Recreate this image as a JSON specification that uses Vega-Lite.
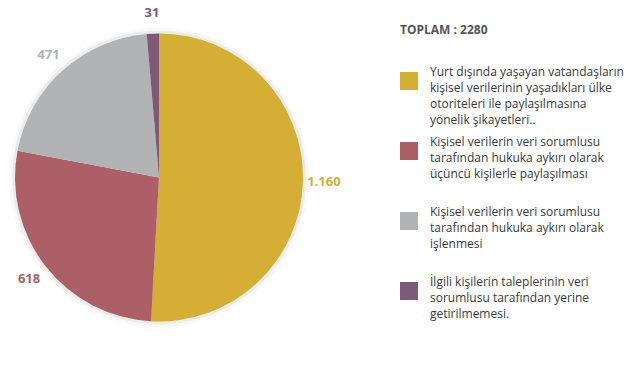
{
  "$schema": "https://vega.github.io/schema/vega-lite/v6.json",
  "width": 318,
  "height": 355,
  "padding": 0,
  "autosize": {"type": "pad"},
  "background": "white",
  "config": {
    "view": {"stroke": null},
    "font": "Open Sans",
    "style": {"guide-label": {"lineHeight": 16}},
    "locale": {"number": {"decimal": ",", "thousands": ".", "grouping": [3], "currency": ["", " ₺"]}}
  },
  "data": {
    "values": [
      {"idx": 1, "kategori": "Yurt dışında yaşayan vatandaşların\nkişisel verilerinin yaşadıkları ülke\notoriteleri ile paylaşılmasına\nyönelik şikayetleri..", "sayi": 1160},
      {"idx": 2, "kategori": "Kişisel verilerin veri sorumlusu\ntarafından hukuka aykırı olarak\nüçüncü kişilerle paylaşılması", "sayi": 618},
      {"idx": 3, "kategori": "Kişisel verilerin veri sorumlusu\ntarafından hukuka aykırı olarak\nişlenmesi", "sayi": 471},
      {"idx": 4, "kategori": "İlgili kişilerin taleplerinin veri\nsorumlusu tarafından yerine\ngetirilmemesi.", "sayi": 31}
    ]
  },
  "encoding": {
    "theta": {"field": "sayi", "type": "quantitative", "stack": true},
    "order": {"field": "idx", "type": "quantitative"}
  },
  "layer": [
    {"mark": {"type": "arc", "outerRadius": 147, "color": "#000000", "opacity": 0.05, "stroke": null}},
    {"mark": {"type": "arc", "outerRadius": 150, "color": "#000000", "opacity": 0.025, "stroke": null}},
    {
      "mark": {"type": "arc", "outerRadius": 144, "stroke": null},
      "encoding": {
        "color": {
          "field": "kategori",
          "type": "nominal",
          "sort": null,
          "scale": {"range": ["#D5AF34", "#AD5F68", "#B2B3B5", "#7E597A"]},
          "legend": {
            "title": "TOPLAM : 2280",
            "orient": "none",
            "legendX": 400,
            "legendY": 25,
            "titleFont": "Open Sans",
            "titleFontWeight": "bold",
            "titleFontSize": 12,
            "titleColor": "#555555",
            "titlePadding": 35,
            "symbolType": "square",
            "symbolSize": 324,
            "symbolStrokeWidth": 0,
            "symbolOpacity": 1,
            "labelExpr": "split(datum.label, '\\n')",
            "labelFont": "Open Sans",
            "labelFontSize": 12,
            "labelColor": "#3a3a3a",
            "labelLimit": 400,
            "labelOffset": 12,
            "labelBaseline": "line-bottom",
            "gridAlign": "all",
            "rowPadding": 10
          }
        }
      }
    },
    {
      "mark": {"type": "text", "radius": 165, "fontWeight": "bold", "fontSize": 13, "font": "Open Sans"},
      "encoding": {
        "text": {"field": "sayi", "type": "quantitative", "format": ",d"},
        "color": {"field": "kategori", "type": "nominal", "sort": null, "legend": null}
      }
    }
  ]
}
